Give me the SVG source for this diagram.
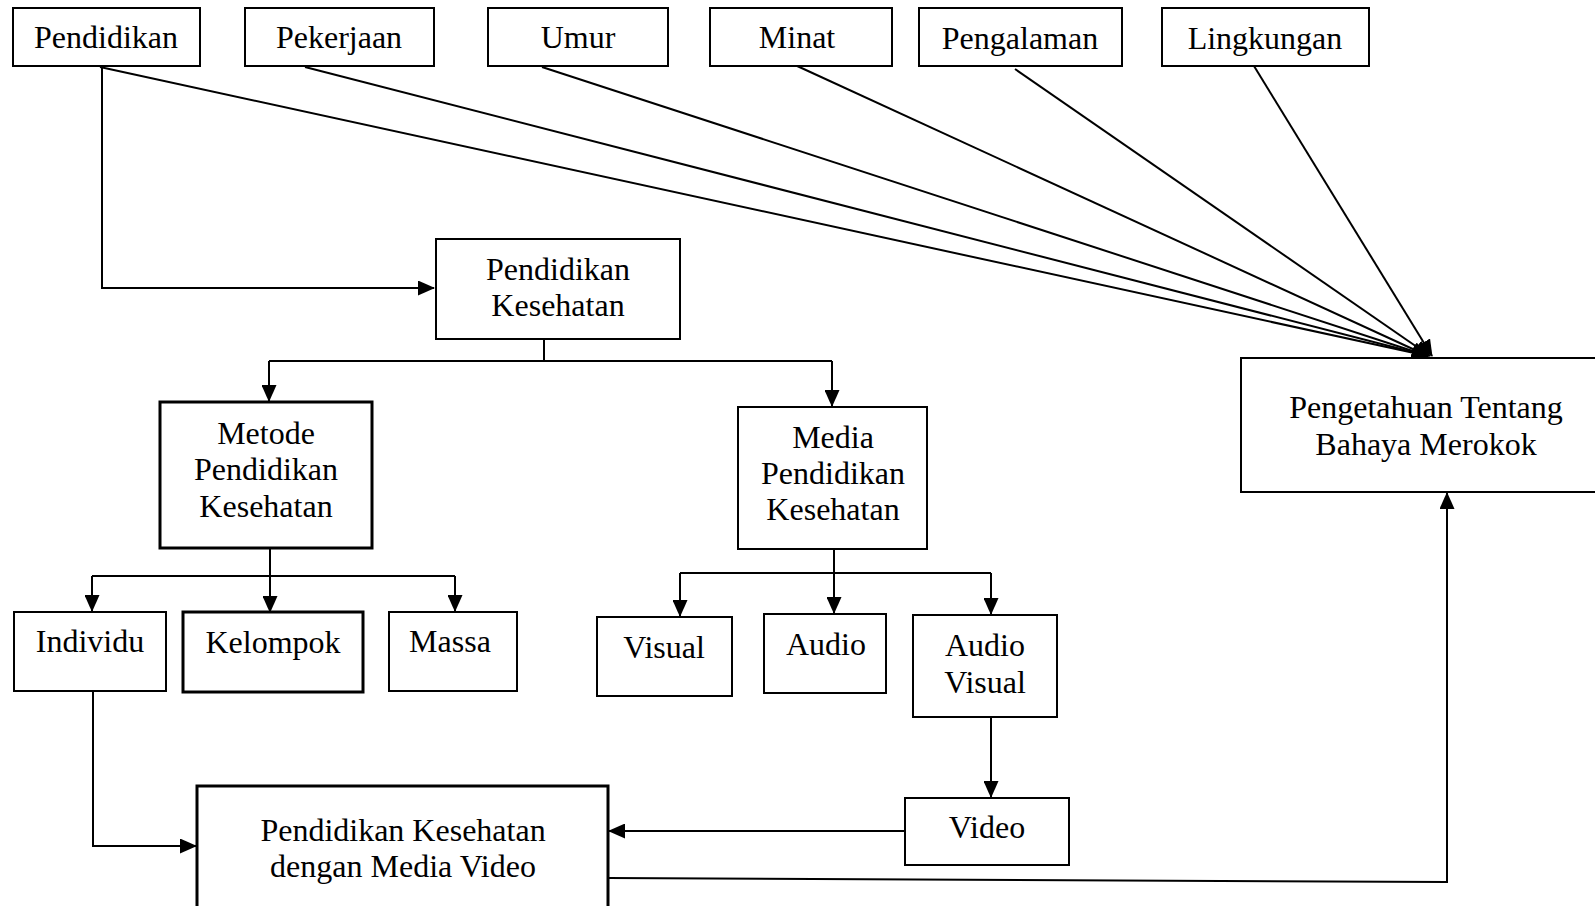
<svg xmlns="http://www.w3.org/2000/svg" width="1595" height="906" viewBox="0 0 1595 906">
<defs>
<style>
rect{fill:#fff;stroke:#000;stroke-width:2}
rect.thick{stroke-width:3}
text{font-family:"Liberation Serif","Times New Roman",serif;font-size:32px;fill:#000;text-anchor:middle}
.c{fill:none;stroke:#000;stroke-width:2}
</style>
<marker id="ah" markerWidth="17" markerHeight="15" refX="16" refY="7.5" orient="auto" markerUnits="userSpaceOnUse"><path d="M0,0 L17,7.5 L0,15 z" fill="#000"/></marker>
</defs>
<rect x="0" y="0" width="1595" height="906" style="fill:#fff;stroke:none"/>
<g id="connectors">
<path class="c" d="M102,67 V288 H434" marker-end="url(#ah)"/>
<path class="c" d="M100,67 L1428,356" marker-end="url(#ah)"/>
<path class="c" d="M305,67 L1428,356" marker-end="url(#ah)"/>
<path class="c" d="M542,67 L1428,356" marker-end="url(#ah)"/>
<path class="c" d="M795,65 L1428,356" marker-end="url(#ah)"/>
<path class="c" d="M1015,69 L1430,356" marker-end="url(#ah)"/>
<path class="c" d="M1254,66 L1432,356" marker-end="url(#ah)"/>
<path class="c" d="M544,339 V361"/>
<path class="c" d="M269,361 H832"/>
<path class="c" d="M269,361 V401" marker-end="url(#ah)"/>
<path class="c" d="M832,361 V406" marker-end="url(#ah)"/>
<path class="c" d="M270,548 V612" marker-end="url(#ah)"/>
<path class="c" d="M92,576 H455"/>
<path class="c" d="M92,576 V611" marker-end="url(#ah)"/>
<path class="c" d="M455,576 V611" marker-end="url(#ah)"/>
<path class="c" d="M834,546 V613" marker-end="url(#ah)"/>
<path class="c" d="M680,573 H991"/>
<path class="c" d="M680,573 V616" marker-end="url(#ah)"/>
<path class="c" d="M991,573 V614" marker-end="url(#ah)"/>
<path class="c" d="M991,717 V797" marker-end="url(#ah)"/>
<path class="c" d="M905,831 H609" marker-end="url(#ah)"/>
<path class="c" d="M93,691 V846 H196" marker-end="url(#ah)"/>
<path class="c" d="M608,878 L1447,882 V493" marker-end="url(#ah)"/>
</g>
<g id="n-pendidikan"><rect x="13" y="8" width="187" height="58"/><text x="106" y="48">Pendidikan</text></g>
<g id="n-pekerjaan"><rect x="245" y="8" width="189" height="58"/><text x="339" y="48">Pekerjaan</text></g>
<g id="n-umur"><rect x="488" y="8" width="180" height="58"/><text x="578" y="48">Umur</text></g>
<g id="n-minat"><rect x="710" y="8" width="182" height="58"/><text x="797" y="48">Minat</text></g>
<g id="n-pengalaman"><rect x="919" y="8" width="203" height="58"/><text x="1020" y="49">Pengalaman</text></g>
<g id="n-lingkungan"><rect x="1162" y="8" width="207" height="58"/><text x="1265" y="49">Lingkungan</text></g>
<g id="n-pk"><rect x="436" y="239" width="244" height="100"/><text x="558" y="280">Pendidikan</text><text x="558" y="316">Kesehatan</text></g>
<g id="n-pengetahuan"><rect x="1241" y="358" width="370" height="134"/><text x="1426" y="418">Pengetahuan Tentang</text><text x="1426" y="455">Bahaya Merokok</text></g>
<g id="n-metode"><rect class="thick" x="160" y="402" width="212" height="146"/><text x="266" y="444">Metode</text><text x="266" y="480">Pendidikan</text><text x="266" y="517">Kesehatan</text></g>
<g id="n-media"><rect x="738" y="407" width="189" height="142"/><text x="833" y="448">Media</text><text x="833" y="484">Pendidikan</text><text x="833" y="520">Kesehatan</text></g>
<g id="n-individu"><rect x="14" y="612" width="152" height="79"/><text x="90" y="652">Individu</text></g>
<g id="n-kelompok"><rect class="thick" x="183" y="612" width="180" height="80"/><text x="273" y="653">Kelompok</text></g>
<g id="n-massa"><rect x="389" y="612" width="128" height="79"/><text x="450" y="652">Massa</text></g>
<g id="n-visual"><rect x="597" y="617" width="135" height="79"/><text x="664" y="658">Visual</text></g>
<g id="n-audio"><rect x="764" y="614" width="122" height="79"/><text x="826" y="655">Audio</text></g>
<g id="n-audiovisual"><rect x="913" y="615" width="144" height="102"/><text x="985" y="656">Audio</text><text x="985" y="693">Visual</text></g>
<g id="n-video"><rect x="905" y="798" width="164" height="67"/><text x="987" y="838">Video</text></g>
<g id="n-pkmv"><rect class="thick" x="197" y="786" width="411" height="140"/><text x="403" y="841">Pendidikan Kesehatan</text><text x="403" y="877">dengan Media Video</text></g>
</svg>
